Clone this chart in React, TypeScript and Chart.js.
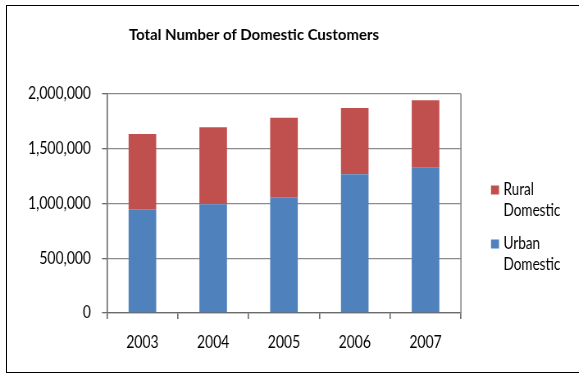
import React, { useEffect, useRef } from "react";
import { Chart, registerables } from "chart.js";

Chart.register(...registerables);

const TITLE = "Total Number of Domestic Customers";
const YEARS = ["2003", "2004", "2005", "2006", "2007"];
const URBAN = [947000, 993000, 1057000, 1267000, 1327000];
const RURAL = [688000, 703000, 727000, 605000, 615000];
const SERIES_NAMES = ["Urban Domestic", "Rural Domestic"];
const SERIES_COLORS = ["#4F81BD", "#C0504D"];
const Y_TICKS = [0, 500000, 1000000, 1500000, 2000000];

const FONT = 'Lato, "Open Sans", sans-serif';
// horizontal compression to mimic the narrow (Calibri-like) lettering
const SX = 0.82;
const W = 579;
const H = 375;
const CW = Math.round(W / SX);

const overlayPlugin = {
  id: "overlay",
  afterDraw(chart: any) {
    const ctx = chart.ctx;
    const area = chart.chartArea;
    ctx.save();
    // right border of plot area
    ctx.strokeStyle = "#8c8c8c";
    ctx.lineWidth = 1.3 / SX;
    ctx.beginPath();
    ctx.moveTo(area.right, area.top);
    ctx.lineTo(area.right, area.bottom);
    ctx.stroke();

    // title
    ctx.fillStyle = "#000";
    ctx.font = `bold 16px ${FONT}`;
    ctx.textAlign = "center";
    ctx.textBaseline = "middle";
    const tw = ctx.measureText(TITLE).width;
    const tScale = 250 / SX / tw;
    ctx.save();
    ctx.translate(254 / SX, 35);
    ctx.scale(tScale, 1);
    ctx.fillText(TITLE, 0, 0);
    ctx.restore();

    // legend (reverse order, wrapped labels)
    ctx.font = `16.5px ${FONT}`;
    ctx.textAlign = "left";
    const ds = chart.data.datasets;
    const x0 = 491 / SX;
    let y = 190;
    for (let i = ds.length - 1; i >= 0; i--) {
      const words = String(ds[i].label).split(" ");
      ctx.fillStyle = ds[i].backgroundColor;
      ctx.fillRect(x0, y - 4.5, 8 / SX, 9);
      ctx.fillStyle = "#000";
      words.forEach((w: string, k: number) => {
        ctx.fillText(w, x0 + 12.5 / SX, y + k * 21);
      });
      y += 54;
    }
    ctx.restore();
  },
};

export default function App() {
  const ref = useRef<HTMLCanvasElement>(null);
  useEffect(() => {
    const chart = new Chart(ref.current!, {
      type: "bar",
      data: {
        labels: YEARS,
        datasets: [
          { label: SERIES_NAMES[0], data: URBAN, backgroundColor: SERIES_COLORS[0], barPercentage: 0.39, categoryPercentage: 1 },
          { label: SERIES_NAMES[1], data: RURAL, backgroundColor: SERIES_COLORS[1], barPercentage: 0.39, categoryPercentage: 1 },
        ],
      },
      options: {
        responsive: false,
        animation: false,
        devicePixelRatio: 1,
        layout: { padding: { top: 94, right: 118 / SX, left: 0, bottom: 22 } },
        plugins: {
          legend: { display: false },
          title: { display: false },
          tooltip: { enabled: false },
        },
        scales: {
          x: {
            stacked: true,
            afterFit: (s: any) => { s.height = 40; },
            grid: {
              offset: true,
              drawOnChartArea: false,
              color: "#6a6a6a",
              tickColor: "#6a6a6a",
              tickWidth: 1.3 / SX,
              lineWidth: 1.3 / SX,
              tickLength: 6,
            },
            border: { color: "#6a6a6a", width: 1.3 },
            ticks: { color: "#000", font: { family: FONT, size: 17 }, padding: 13 },
          },
          y: {
            stacked: true,
            min: 0,
            max: 2000000,
            afterFit: (s: any) => { s.width = 107 / SX; },
            afterBuildTicks: (s: any) => { s.ticks = Y_TICKS.map((v) => ({ value: v })); },
            grid: { color: "#8c8c8c", tickColor: "#6a6a6a", tickLength: 5 / SX, lineWidth: 1.3 },
            border: { color: "#6a6a6a", width: 1.3 / SX },
            ticks: {
              color: "#000",
              font: { family: FONT, size: 17 },
              padding: 11 / SX,
              callback: (v: any) => Number(v).toLocaleString("en-US"),
            },
          },
        },
      },
      plugins: [overlayPlugin],
    });
    return () => chart.destroy();
  }, []);
  return (
    <div style={{ position: "fixed", left: 0, top: 0, width: W, height: H, background: "#fff", overflow: "hidden" }}>
      <div
        style={{
          position: "absolute",
          left: 6,
          top: 5,
          width: 600,
          height: 366,
          borderLeft: "1.5px solid #000",
          borderTop: "1.5px solid #000",
          borderBottom: "1.5px solid #000",
        }}
      />
      <div style={{ position: "absolute", left: 0, top: 0, width: CW, height: H, transform: `scaleX(${SX})`, transformOrigin: "0 0" }}>
        <canvas ref={ref} width={CW} height={H} style={{ display: "block" }} />
      </div>
    </div>
  );
}
